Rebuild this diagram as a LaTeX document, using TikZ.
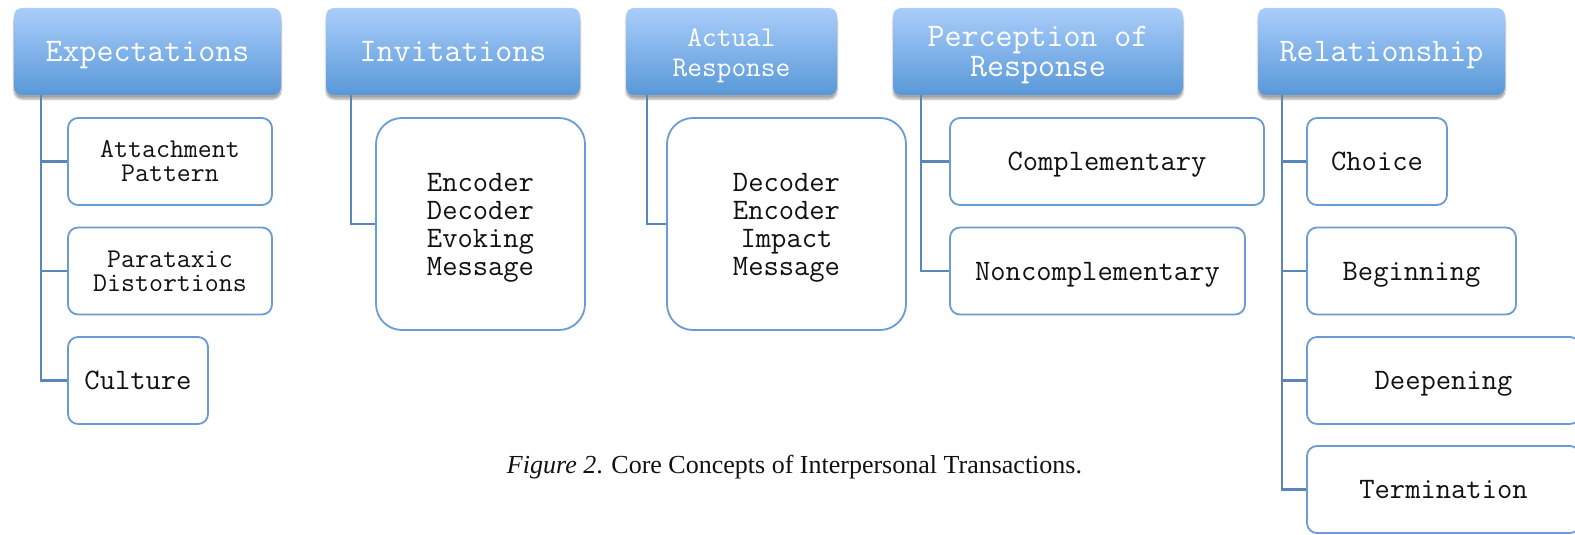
\documentclass[tikz,border=0pt]{standalone}
\usepackage{fontspec}
\setmainfont{Liberation Serif}
\usetikzlibrary{shapes,arrows.meta,positioning,calc,shadows.blur}
\definecolor{hdtop}{HTML}{AACDFA}
\definecolor{hdbot}{HTML}{5898D8}
\definecolor{boxline}{HTML}{6A9BD2}
\definecolor{linkline}{HTML}{5A86BC}
\definecolor{darktext}{HTML}{111111}

\tikzset{
  header/.style={rounded corners=8pt, top color=hdtop, bottom color=hdbot, draw=none,
    minimum height=87pt, align=center, text=white, inner sep=0pt,
    font=\ttfamily\fontsize{33}{30}\selectfont,
    blur shadow={shadow xshift=0pt, shadow yshift=-4pt, shadow blur steps=6, shadow opacity=35}},
  item/.style={rounded corners=10pt, draw=boxline, line width=1.8pt, fill=white,
    minimum height=87pt, align=center, text=darktext, inner sep=0pt,
    font=\ttfamily\fontsize{29.7}{28}\selectfont},
  tallitem/.style={item, rounded corners=26pt, minimum height=212pt, text height=110pt},
  % single lines: centre the capitals in the box
  hdline/.style={text height=21pt, text depth=0pt},
  itline/.style={text height=18pt, text depth=0pt},
  link/.style={draw=linkline, line width=2.4pt}
}

\begin{document}
\begin{tikzpicture}[x=1pt, y=-1pt]
\clip (0,0) rectangle (1575,535);
\useasboundingbox (0,0) rectangle (1575,535);

% top row
\node[header, hdline, minimum width=267pt] (exp) at (147.5,51.5) {Expectations};
\node[header, hdline, minimum width=254pt] (inv) at (453,51.5) {Invitations};
\node[header, minimum width=211pt, text height=57pt, font=\ttfamily\fontsize{28.6}{30}\selectfont] (act) at (731.5,51.5) {Actual\\Response};
\node[header, minimum width=290pt, text height=57pt] (perc) at (1038,51.5) {Perception of\\Response};
\node[header, hdline, minimum width=247pt] (rel) at (1381.5,51.5) {Relationship};

% expectations
\node[item, minimum width=204pt, font=\ttfamily\fontsize{27.1}{24}\selectfont] (att) at (170,161.5) {Attachment\\Pattern};
\node[item, minimum width=204pt, font=\ttfamily\fontsize{27.1}{24}\selectfont] (para) at (170,271) {Parataxic\\Distortions};
\node[item, itline, minimum width=140pt] (cult) at (138,380.5) {Culture};

% invitations and actual response
\node[tallitem, minimum width=209pt] (evok) at (480.5,224) {Encoder\\Decoder\\Evoking\\Message};
\node[tallitem, minimum width=239pt] (impc) at (786.5,224) {Decoder\\Encoder\\Impact\\Message};

% perception of response
\node[item, itline, minimum width=314pt] (comp) at (1107,161.5) {Complementary};
\node[item, itline, minimum width=295pt] (ncomp) at (1097.5,271) {Noncomplementary};

% relationship
\node[item, itline, minimum width=140pt] (choice) at (1377,161.5) {Choice};
\node[item, itline, minimum width=209pt] (begin) at (1411.5,271) {Beginning};
\node[item, itline, minimum width=273pt] (deep) at (1443.5,380.5) {Deepening};
\node[item, itline, minimum width=273pt] (term) at (1443.5,489.5) {Termination};

% connectors
\draw[link] ([xshift=27pt]exp.south west) |- (att.west);
\draw[link] ([xshift=27pt]exp.south west) |- (para.west);
\draw[link] ([xshift=27pt]exp.south west) |- (cult.west);
\draw[link] ([xshift=25pt]inv.south west) |- (evok.west);
\draw[link] ([xshift=21pt]act.south west) |- (impc.west);
\draw[link] ([xshift=28pt]perc.south west) |- (comp.west);
\draw[link] ([xshift=28pt]perc.south west) |- (ncomp.west);
\foreach \n in {choice,begin,deep,term}
  \draw[link] ([xshift=24pt]rel.south west) |- (\n.west);

% caption
\node[font=\fontsize{26}{28}\selectfont, text=darktext] (cap) at (794.5,467) {\textit{Figure 2}. Core Concepts of Interpersonal Transactions.};
\end{tikzpicture}
\end{document}
